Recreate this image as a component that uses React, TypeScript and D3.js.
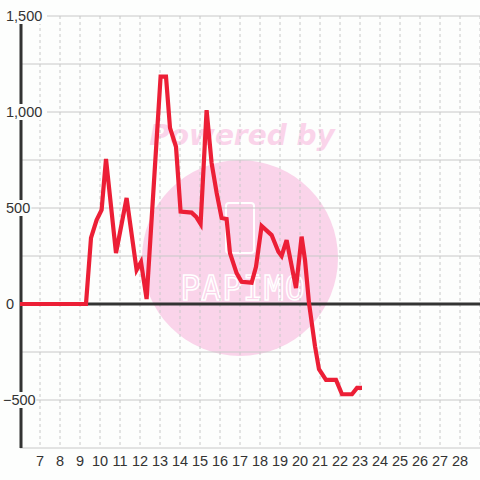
import React from "react";
import * as d3 from "d3";

const days = [6, 9.3, 9.55, 9.83, 10.08, 10.3, 10.8, 11.33, 11.83, 12.05, 12.33, 13.03, 13.3, 13.5, 13.8, 14.03, 14.58, 14.8, 15.03, 15.33, 15.58, 15.83, 16.08, 16.33, 16.5, 16.83, 17.08, 17.58, 17.8, 18.08, 18.58, 18.92, 19.08, 19.33, 19.8, 20.08, 20.25, 20.45, 20.75, 20.95, 21.3, 21.8, 22.1, 22.6, 22.85, 23.1];
const values = [0, 0, 344, 437, 490, 755, 265, 552, 177, 219, 26, 1184, 1184, 917, 819, 481, 476, 455, 417, 1010, 734, 580, 448, 443, 265, 161, 116, 111, 194, 406, 359, 272, 250, 333, 83, 351, 229, 5, -220, -340, -395, -395, -470, -470, -437, -437];
const xTicks = [7, 8, 9, 10, 11, 12, 13, 14, 15, 16, 17, 18, 19, 20, 21, 22, 23, 24, 25, 26, 27, 28];
const xGrid = [7, 8, 9, 10, 11, 12, 13, 14, 15, 16, 17, 18, 19, 20, 21, 22, 23, 24, 25, 26, 27, 28, 29];
const yLabelTicks = [1500, 1000, 500, 0, -500];
const yGrid = [1500, 1250, 1000, 750, 500, 250, 0, -250, -500, -750];

export default function App() {
  const W = 480, H = 480;
  const x = d3.scaleLinear().domain([6, 29]).range([20, 480]);
  const y = d3.scaleLinear().domain([-750, 1500]).range([448, 16]);
  const pts = days.map((d, i) => [d, values[i]] as [number, number]);
  const line = d3.line<[number, number]>().x(p => x(p[0])).y(p => y(p[1]));
  const fmt = d3.format(",");
  const font = "'Liberation Sans', Arial, sans-serif";
  return (
    <svg width={W} height={H} style={{ position: "absolute", left: 0, top: 0, background: "#fdfefd" }}>
      <rect x={0} y={0} width={W} height={H} fill="#fdfefd" />
      {/* watermark */}
      <g>
        <circle cx={240} cy={258} r={98} fill="#fad4ea" />
        <text x={242} y={145} textAnchor="middle" fontFamily="'DejaVu Sans', sans-serif" fontWeight="bold" fontStyle="italic" fontSize={28} fill="#fad4ea">Powered by</text>
        <rect x={226} y={203} width={28} height={50} rx={3} fill="none" stroke="#ffffff" strokeWidth={2} />
        <text x={243} y={300} textAnchor="middle" fontFamily="'DejaVu Sans Mono', monospace" fontSize={33} fill="none" stroke="#ffffff" strokeWidth={1.5} letterSpacing={1}>PAPIMO</text>
      </g>
      {/* grid */}
      {yGrid.map(v => (
        <line key={"h" + v} x1={20} x2={480} y1={y(v)} y2={y(v)} stroke="#c8c8c8" strokeWidth={1} />
      ))}
      {xGrid.map(d => (
        <line key={"v" + d} x1={x(d)} x2={x(d)} y1={16} y2={448} stroke="#c8c8c8" strokeWidth={1} strokeDasharray="3,3" />
      ))}
      {/* y axis */}
      <line x1={21} x2={21} y1={16} y2={448} stroke="#333333" strokeWidth={3} />
      {/* zero line */}
      <line x1={20} x2={480} y1={y(0)} y2={y(0)} stroke="#333333" strokeWidth={3} />
      {/* y labels */}
      {yLabelTicks.map(v => {
        const label = fmt(v);
        const w = label.length * 7.8 + 4;
        const lx = v < 0 ? 3 : 6;
        return (
          <g key={"yl" + v}>
            <rect x={lx - 2} y={y(v) - 8} width={w} height={16} fill="#fdfefd" />
            <text x={lx} y={y(v) + 5} fontFamily={font} fontSize={14.5} fill="#333333">{label}</text>
          </g>
        );
      })}
      {/* series */}
      <path d={line(pts) || ""} fill="none" stroke="#ec1f36" strokeWidth={4.2} strokeLinejoin="miter" strokeMiterlimit={4} />
      {/* x labels */}
      {xTicks.map(d => (
        <text key={"xl" + d} x={x(d)} y={466} textAnchor="middle" fontFamily={font} fontSize={14.5} fill="#333333">{d}</text>
      ))}
    </svg>
  );
}
